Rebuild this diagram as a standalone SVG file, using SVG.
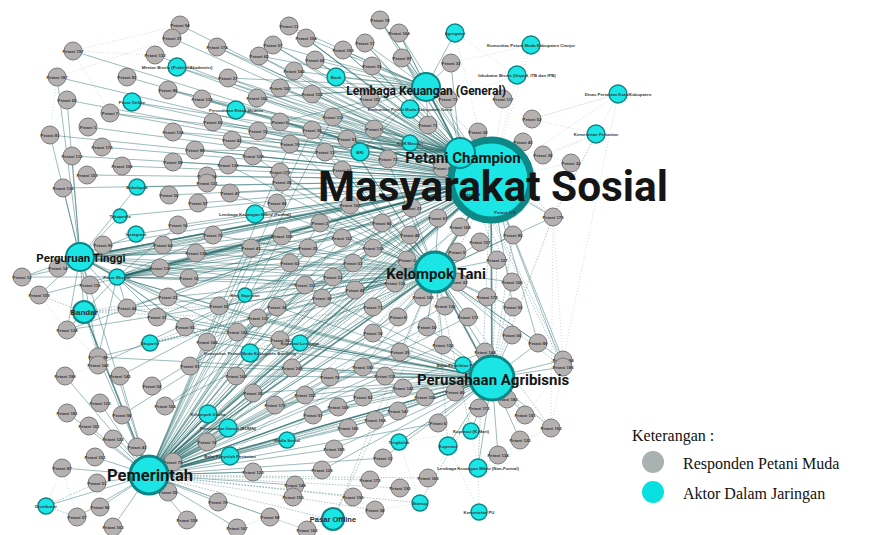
<svg xmlns="http://www.w3.org/2000/svg" xmlns:xlink="http://www.w3.org/1999/xlink" width="887" height="535" viewBox="0 0 887 535">
<style>
.p circle{fill:#b5b1b1;stroke:#7a7878;stroke-width:1}
.a circle{fill:#1be5e5;stroke:#0b8585;stroke-width:1.4}
.s{font-family:"Liberation Sans",Arial,sans-serif;font-weight:bold;font-size:4.3px;fill:#383838;text-anchor:middle}
.s2{font-family:"Liberation Sans",Arial,sans-serif;font-weight:bold;font-size:5px;fill:#2a2a2a;text-anchor:middle}
.L{font-family:Roboto,"Liberation Sans",Arial,sans-serif;font-weight:bold;fill:#151515;text-anchor:middle}
.e path{fill:none;stroke:#1c6463;stroke-width:0.7;stroke-opacity:0.62}
.e path.d{stroke-dasharray:1.6 1.4;stroke-opacity:0.5}
.e path.f{stroke:#5f8f8f;stroke-width:0.5;stroke-dasharray:1 2;stroke-opacity:0.6}
.e path.h{stroke-width:1.7;stroke-opacity:0.7}
.lg{font-family:"Liberation Serif","Times New Roman",serif;font-size:16px;fill:#111}
</style>
<rect width="887" height="535" fill="#ffffff"/>
<g id="connectors" class="e">
<path d="M491 180L180 25M491 180L172 38M491 180L73 51M491 180L155 55M491 180L217 47M491 180L273 45M491 180L259 56M491 180L57 77M491 180L127 77M491 180L228 78M491 180L280 88M491 180L67 100M491 180L168 90M491 180L202 99M491 180L257 98M491 180L110 113M491 180L213 122M491 180L88 127M491 180L280 122M491 180L50 135M491 180L173 132M491 180L258 131M491 180L232 140M491 180L102 147M491 180L195 150M491 180L72 156M491 180L253 156M491 180L173 162M491 180L122 166M491 180L228 165M491 180L87 175M491 180L207 176M491 180L63 188M491 180L169 195M491 180L198 203M491 180L230 193M491 180L178 225M491 180L213 235M491 180L103 245M491 180L163 245M491 180L196 253M491 180L251 248M491 180L58 268M491 180L160 268M491 180L22 277M491 180L90 285M491 180L189 278M491 180L39 295M491 180L168 297M491 180L127 308M491 180L219 306M491 180L157 317M491 180L258 318M491 180L185 327M491 180L237 332M491 180L67 330M491 180L207 342M491 180L98 365M491 180L120 376M491 180L152 386M491 180L190 366M491 180L236 376M491 180L165 406M491 180L253 393M491 180L122 415M491 180L207 442M491 180L173 462M491 180L380 20M491 180L399 33M491 180L306 38M491 180L365 43M491 180L343 50M491 180L315 60M491 180L402 58M491 180L372 66M491 180L312 94M491 180L370 99M491 180L333 117M491 180L312 130M491 180L347 139M491 180L325 152M491 180L553 217M491 180L563 360M491 180L538 343M491 180L513 307M491 180L563 367M491 180L137 187M491 180L120 216M491 180L136 234M491 180L132 102M491 180L177 67M491 180L236 110M491 180L255 214M491 180L117 277M491 180L80 257"/>
<path d="M149 475L253 393M149 475L275 405M149 475L292 368M149 475L236 376M149 475L305 395M149 475L330 377M149 475L363 367M149 475L385 376M149 475L403 388M149 475L425 397M149 475L455 392M149 475L363 397M149 475L338 407M149 475L313 415M149 475L375 420M149 475L398 411M149 475L438 423M149 475L322 298M149 475L373 307M149 475L398 317M149 475L427 327M149 475L373 333M149 475L400 352M149 475L443 345M149 475L355 290M149 475L333 277M149 475L305 285M149 475L258 318M149 475L277 307M149 475L280 340M149 475L237 332M149 475L207 342M149 475L219 306M149 475L308 248M149 475L342 238M149 475L320 223M149 475L282 236M149 475L251 248M149 475L290 263M149 475L350 205M149 475L382 223M149 475L410 235M149 475L353 263M149 475L373 248M149 475L395 283M149 475L423 297M149 475L468 317M149 475L445 306M149 475L485 352M149 475L207 442M149 475L253 472M149 475L295 485M149 475L270 517M149 475L218 502M149 475L187 520M149 475L334 449M149 475L348 428M149 475L322 470M149 475L383 458M149 475L98 357M149 475L100 403M149 475L65 376M149 475L120 376M149 475L67 413M149 475L89 426M149 475L113 439M149 475L62 468M149 475L95 457M149 475L97 483M149 475L100 507M149 475L77 517M149 475L113 527M149 475L168 492M149 475L237 528M149 475L46 506M149 475L208 414M149 475L228 428M149 475L230 456M149 475L287 440M149 475L300 343M149 475L250 353M149 475L245 295M149 475L412 208M149 475L438 218M149 475L460 227M149 475L312 130M149 475L333 117M149 475L290 144"/>
<path d="M435 272L213 235M435 272L196 253M435 272L160 268M435 272L189 278M435 272L168 297M435 272L219 306M435 272L277 307M435 272L258 318M435 272L237 332M435 272L280 340M435 272L308 248M435 272L342 238M435 272L320 223M435 272L350 205M435 272L382 223M435 272L410 235M435 272L412 208M435 272L438 218M435 272L460 227M435 272L480 242M435 272L513 235M435 272L497 260M435 272L512 282M435 272L487 297M435 272L513 307M435 272L512 335M435 272L538 343M435 272L485 352M435 272L443 345M435 272L400 352M435 272L427 327M435 272L398 317M435 272L373 333M435 272L373 307M435 272L322 298M435 272L305 285M435 272L333 277M435 272L353 263M435 272L373 248M435 272L407 260M435 272L457 252M435 272L458 282M435 272L445 306M435 272L468 317M435 272L423 297M435 272L395 283M435 272L355 290M435 272L342 170M435 272L325 152M435 272L347 139M435 272L374 129M435 272L333 117M435 272L312 130M435 272L290 144M435 272L280 172M435 272L282 182M435 272L230 193M435 272L251 248M435 272L290 263M435 272L253 156M435 272L228 165M435 272L165 406M435 272L253 393M435 272L292 368M435 272L363 367M435 272L98 357M435 272L127 308M435 272L67 330M435 272L553 217M435 272L563 360"/>
<path d="M492 378L363 367M492 378L385 376M492 378L330 377M492 378L305 395M492 378L363 397M492 378L403 388M492 378L425 397M492 378L455 392M492 378L338 407M492 378L398 411M492 378L375 420M492 378L438 423M492 378L348 428M492 378L313 415M492 378L334 449M492 378L525 415M492 378L507 399M492 378L479 408M492 378L551 428M492 378L520 440M492 378L498 455M492 378L563 367M492 378L563 360M492 378L538 343M492 378L512 335M492 378L485 352M492 378L443 345M492 378L400 352M492 378L427 327M492 378L373 333M492 378L322 298M492 378L280 340M492 378L258 318M492 378L237 332M492 378L207 342M492 378L292 368M492 378L253 393M492 378L275 405M492 378L219 306M492 378L277 307M492 378L168 297M492 378L185 327M492 378L157 317M492 378L127 308M492 378L98 357M492 378L236 376M492 378L190 366M492 378L471 431M492 378L448 446M492 378L478 468M492 378L399 442M492 378L463 365M492 378L383 458M492 378L322 470"/>
<path d="M80 257L22 277M80 257L39 295M80 257L58 268M80 257L90 285M80 257L103 245M80 257L63 188M80 257L67 330M80 257L98 357M80 257L127 308M80 257L160 268M80 257L168 297M80 257L163 245M80 257L189 278M80 257L196 253M80 257L213 235M80 257L251 248M80 257L308 248M80 257L342 238M80 257L350 205M80 257L382 223M80 257L305 285M80 257L333 277M80 257L120 216M80 257L136 234M80 257L137 187M80 257L57 77M80 257L67 100M80 257L50 135M80 257L72 156M80 257L84 312M80 257L435 272M80 257L149 475"/>
<path d="M117 277L178 225M117 277L213 235M117 277L251 248M117 277L282 236M117 277L308 248M117 277L342 238M117 277L373 248M117 277L189 278M117 277L219 306M117 277L258 318M117 277L290 263M117 277L305 285M117 277L168 297M117 277L157 317M117 277L185 327M117 277L237 332M117 277L207 342M117 277L127 308M117 277L160 268M117 277L353 263M117 277L395 283M117 277L412 208M117 277L382 223M117 277L98 357M117 277L67 330M117 277L22 277"/>
<path d="M460 153L428 125M460 153L448 99M460 153L478 132M460 153L442 168M460 153L388 159M460 153L374 129M460 153L347 139M460 153L333 117M460 153L370 99M460 153L402 58M460 153L372 66M460 153L451 63M460 153L365 43M460 153L343 50M460 153L399 33M460 153L380 20M460 153L306 38M460 153L315 60M460 153L312 94M460 153L312 130M460 153L325 152M460 153L342 170M460 153L280 122M460 153L290 144M460 153L258 131M460 153L257 98M460 153L280 88M460 153L294 71M460 153L289 26M460 153L273 45M460 153L259 56M460 153L232 140M460 153L213 122M460 153L228 78M460 153L217 47M460 153L202 99M460 153L168 90M460 153L173 132M460 153L195 150M460 153L110 113M460 153L132 102M460 153L177 67M460 153L236 110"/>
<path d="M426 87L380 20M426 87L399 33M426 87L365 43M426 87L343 50M426 87L402 58M426 87L372 66M426 87L315 60M426 87L306 38M426 87L289 26M426 87L273 45M426 87L259 56M426 87L294 71M426 87L280 88M426 87L312 94M426 87L370 99M426 87L448 99M426 87L333 117M426 87L374 129M426 87L428 125M426 87L410 109M426 87L336 77M426 87L360 152M426 87L455 33M426 87L451 63M426 87L228 78M426 87L257 98M426 87L280 122"/>
<path class="h" d="M149 475L491 180M149 475L435 272M149 475L492 378M80 257L491 180M435 272L491 180M492 378L491 180M492 378L435 272M460 153L426 87M117 277L491 180M80 257L117 277M149 475L84 312"/>
<path class="d" d="M460 153L563 360M460 153L553 217M460 153L513 235M460 153L497 260M460 153L512 282M426 87L563 367M426 87L553 217M435 272L563 367M435 272L551 428M435 272L525 415M492 378L513 307M492 378L512 282M492 378L497 260M492 378L513 235M492 378L553 217M149 475L307 530M149 475L353 497M149 475L375 510M149 475L333 520M149 475L420 503M149 475L370 480M149 475L400 488M149 475L428 478M84 312L127 308M84 312L39 295M84 312L67 330M84 312L98 357M84 312L168 297M84 312L219 306M84 312L258 318M150 343L258 318M150 343L373 307M150 343L305 285M150 343L435 272M245 295L491 180M245 295L435 272M250 353L435 272M250 353L491 180M300 343L435 272M300 343L491 180M208 414L435 272M228 428L491 180M230 456L435 272M287 440L491 180M287 440L492 378M399 442L492 378M448 446L435 272M471 431L435 272M333 520L435 272M333 520L491 180M420 503L492 378M478 468L491 180M46 506L97 483M46 506L77 517"/>
<path class="f" d="M491 180L618 94M491 180L596 134M491 180L531 45M491 180L517 75M491 180L455 33M491 180L503 99M491 180L532 119M491 180L523 142M491 180L543 155M491 180L571 163M553 217L596 134M553 217L618 94M563 360L563 367M563 360L553 217M553 217L551 428M563 367L551 428M525 415L551 428M520 440L551 428M498 455L478 468M479 512L478 468M479 512L448 446M420 503L448 446M420 503L399 442M399 442L471 431M478 468L471 431M448 446L471 431M517 75L455 33M531 45L503 99M618 94L532 119M596 134L532 119M596 134L543 155M532 119L618 94M517 75L448 99M531 45L451 63M180 25L73 51M172 38L57 77M155 55L73 51M57 77L50 135M67 100L50 135M73 51L110 113M22 277L39 295M22 277L58 268M39 295L67 330M67 330L98 357M65 376L98 365M62 468L77 517M62 468L46 506M100 507L113 527M270 517L307 530M237 528L270 517M353 497L375 510M375 510L420 503M333 520L375 510M333 520L307 530M563 367L525 415M551 428L498 455M618 94L563 360M596 134L553 217M571 163L553 217M543 155L571 163"/>
</g>
<g id="nodes-petani">
<g id="p1" class="p" transform="translate(180 25)"><circle r="9"/><text class="s" y="1.5">Petani 94</text></g>
<g id="p2" class="p" transform="translate(172 38)"><circle r="9"/><text class="s" y="1.5">Petani 31</text></g>
<g id="p3" class="p" transform="translate(73 51)"><circle r="9"/><text class="s" y="1.5">Petani 197</text></g>
<g id="p4" class="p" transform="translate(155 55)"><circle r="9"/><text class="s" y="1.5">Petani 132</text></g>
<g id="p5" class="p" transform="translate(217 47)"><circle r="9"/><text class="s" y="1.5">Petani 174</text></g>
<g id="p6" class="p" transform="translate(273 45)"><circle r="9"/><text class="s" y="1.5">Petani 57</text></g>
<g id="p7" class="p" transform="translate(259 56)"><circle r="9"/><text class="s" y="1.5">Petani 65</text></g>
<g id="p8" class="p" transform="translate(289 26)"><circle r="9"/><text class="s" y="1.5">Petani 11</text></g>
<g id="p9" class="p" transform="translate(294 71)"><circle r="9"/><text class="s" y="1.5">Petani 140</text></g>
<g id="p10" class="p" transform="translate(57 77)"><circle r="9"/><text class="s" y="1.5">Petani 187</text></g>
<g id="p11" class="p" transform="translate(127 77)"><circle r="9"/><text class="s" y="1.5">Petani 83</text></g>
<g id="p12" class="p" transform="translate(228 78)"><circle r="9"/><text class="s" y="1.5">Petani 27</text></g>
<g id="p13" class="p" transform="translate(280 88)"><circle r="9"/><text class="s" y="1.5">Petani 102</text></g>
<g id="p14" class="p" transform="translate(67 100)"><circle r="9"/><text class="s" y="1.5">Petani 69</text></g>
<g id="p15" class="p" transform="translate(168 90)"><circle r="9"/><text class="s" y="1.5">Petani 86</text></g>
<g id="p16" class="p" transform="translate(202 99)"><circle r="9"/><text class="s" y="1.5">Petani 133</text></g>
<g id="p17" class="p" transform="translate(257 98)"><circle r="9"/><text class="s" y="1.5">Petani 166</text></g>
<g id="p18" class="p" transform="translate(110 113)"><circle r="9"/><text class="s" y="1.5">Petani 7</text></g>
<g id="p19" class="p" transform="translate(213 122)"><circle r="9"/><text class="s" y="1.5">Petani 60</text></g>
<g id="p20" class="p" transform="translate(88 127)"><circle r="9"/><text class="s" y="1.5">Petani 1</text></g>
<g id="p21" class="p" transform="translate(280 122)"><circle r="9"/><text class="s" y="1.5">Petani 6</text></g>
<g id="p22" class="p" transform="translate(50 135)"><circle r="9"/><text class="s" y="1.5">Petani 81</text></g>
<g id="p23" class="p" transform="translate(173 132)"><circle r="9"/><text class="s" y="1.5">Petani 114</text></g>
<g id="p24" class="p" transform="translate(258 131)"><circle r="9"/><text class="s" y="1.5">Petani 15</text></g>
<g id="p25" class="p" transform="translate(232 140)"><circle r="9"/><text class="s" y="1.5">Petani 42</text></g>
<g id="p26" class="p" transform="translate(102 147)"><circle r="9"/><text class="s" y="1.5">Petani 176</text></g>
<g id="p27" class="p" transform="translate(195 150)"><circle r="9"/><text class="s" y="1.5">Petani 88</text></g>
<g id="p28" class="p" transform="translate(290 144)"><circle r="9"/><text class="s" y="1.5">Petani 19</text></g>
<g id="p29" class="p" transform="translate(72 156)"><circle r="9"/><text class="s" y="1.5">Petani 113</text></g>
<g id="p30" class="p" transform="translate(253 156)"><circle r="9"/><text class="s" y="1.5">Petani 128</text></g>
<g id="p31" class="p" transform="translate(173 162)"><circle r="9"/><text class="s" y="1.5">Petani 58</text></g>
<g id="p32" class="p" transform="translate(122 166)"><circle r="9"/><text class="s" y="1.5">Petani 196</text></g>
<g id="p33" class="p" transform="translate(228 165)"><circle r="9"/><text class="s" y="1.5">Petani 135</text></g>
<g id="p34" class="p" transform="translate(280 172)"><circle r="9"/><text class="s" y="1.5">Petani 170</text></g>
<g id="p35" class="p" transform="translate(87 175)"><circle r="9"/><text class="s" y="1.5">Petani 153</text></g>
<g id="p36" class="p" transform="translate(207 176)"><circle r="9"/><text class="s" y="1.5">Petani 24</text></g>
<g id="p37" class="p" transform="translate(380 20)"><circle r="9"/><text class="s" y="1.5">Petani 78</text></g>
<g id="p38" class="p" transform="translate(399 33)"><circle r="9"/><text class="s" y="1.5">Petani 164</text></g>
<g id="p39" class="p" transform="translate(306 38)"><circle r="9"/><text class="s" y="1.5">Petani 154</text></g>
<g id="p40" class="p" transform="translate(365 43)"><circle r="9"/><text class="s" y="1.5">Petani 17</text></g>
<g id="p41" class="p" transform="translate(343 50)"><circle r="9"/><text class="s" y="1.5">Petani 199</text></g>
<g id="p42" class="p" transform="translate(315 60)"><circle r="9"/><text class="s" y="1.5">Petani 68</text></g>
<g id="p43" class="p" transform="translate(402 58)"><circle r="9"/><text class="s" y="1.5">Petani 87</text></g>
<g id="p44" class="p" transform="translate(372 66)"><circle r="9"/><text class="s" y="1.5">Petani 39</text></g>
<g id="p45" class="p" transform="translate(451 63)"><circle r="9"/><text class="s" y="1.5">Petani 33</text></g>
<g id="p46" class="p" transform="translate(312 94)"><circle r="9"/><text class="s" y="1.5">Petani 156</text></g>
<g id="p47" class="p" transform="translate(370 99)"><circle r="9"/><text class="s" y="1.5">Petani 152</text></g>
<g id="p48" class="p" transform="translate(448 99)"><circle r="9"/><text class="s" y="1.5">Petani 73</text></g>
<g id="p49" class="p" transform="translate(503 99)"><circle r="9"/><text class="s" y="1.5">Petani 117</text></g>
<g id="p50" class="p" transform="translate(333 117)"><circle r="9"/><text class="s" y="1.5">Petani 112</text></g>
<g id="p51" class="p" transform="translate(428 125)"><circle r="9"/><text class="s" y="1.5">Petani 71</text></g>
<g id="p52" class="p" transform="translate(374 129)"><circle r="9"/><text class="s" y="1.5">Petani 5</text></g>
<g id="p53" class="p" transform="translate(312 130)"><circle r="9"/><text class="s" y="1.5">Petani 36</text></g>
<g id="p54" class="p" transform="translate(532 119)"><circle r="9"/><text class="s" y="1.5">Petani 52</text></g>
<g id="p55" class="p" transform="translate(478 132)"><circle r="9"/><text class="s" y="1.5">Petani 20</text></g>
<g id="p56" class="p" transform="translate(347 139)"><circle r="9"/><text class="s" y="1.5">Petani 93</text></g>
<g id="p57" class="p" transform="translate(523 142)"><circle r="9"/><text class="s" y="1.5">Petani 45</text></g>
<g id="p58" class="p" transform="translate(325 152)"><circle r="9"/><text class="s" y="1.5">Petani 13</text></g>
<g id="p59" class="p" transform="translate(388 159)"><circle r="9"/><text class="s" y="1.5">Petani 72</text></g>
<g id="p60" class="p" transform="translate(543 155)"><circle r="9"/><text class="s" y="1.5">Petani 38</text></g>
<g id="p61" class="p" transform="translate(571 163)"><circle r="9"/><text class="s" y="1.5">Petani 32</text></g>
<g id="p62" class="p" transform="translate(442 168)"><circle r="9"/><text class="s" y="1.5">Petani 4</text></g>
<g id="p63" class="p" transform="translate(342 170)"><circle r="9"/><text class="s" y="1.5">Petani 63</text></g>
<g id="p64" class="p" transform="translate(63 188)"><circle r="9"/><text class="s" y="1.5">Petani 136</text></g>
<g id="p65" class="p" transform="translate(169 195)"><circle r="9"/><text class="s" y="1.5">Petani 56</text></g>
<g id="p66" class="p" transform="translate(198 203)"><circle r="9"/><text class="s" y="1.5">Petani 97</text></g>
<g id="p67" class="p" transform="translate(230 193)"><circle r="9"/><text class="s" y="1.5">Petani 47</text></g>
<g id="p68" class="p" transform="translate(277 203)"><circle r="9"/><text class="s" y="1.5">Petani 84</text></g>
<g id="p69" class="p" transform="translate(207 183)"><circle r="9"/><text class="s" y="1.5">Petani 121</text></g>
<g id="p70" class="p" transform="translate(282 182)"><circle r="9"/><text class="s" y="1.5">Petani 28</text></g>
<g id="p71" class="p" transform="translate(178 225)"><circle r="9"/><text class="s" y="1.5">Petani 16</text></g>
<g id="p72" class="p" transform="translate(213 235)"><circle r="9"/><text class="s" y="1.5">Petani 75</text></g>
<g id="p73" class="p" transform="translate(103 245)"><circle r="9"/><text class="s" y="1.5">Petani 99</text></g>
<g id="p74" class="p" transform="translate(163 245)"><circle r="9"/><text class="s" y="1.5">Petani 64</text></g>
<g id="p75" class="p" transform="translate(196 253)"><circle r="9"/><text class="s" y="1.5">Petani 110</text></g>
<g id="p76" class="p" transform="translate(251 248)"><circle r="9"/><text class="s" y="1.5">Petani 41</text></g>
<g id="p77" class="p" transform="translate(282 236)"><circle r="9"/><text class="s" y="1.5">Petani 105</text></g>
<g id="p78" class="p" transform="translate(58 268)"><circle r="9"/><text class="s" y="1.5">Petani 14</text></g>
<g id="p79" class="p" transform="translate(160 268)"><circle r="9"/><text class="s" y="1.5">Petani 116</text></g>
<g id="p80" class="p" transform="translate(290 263)"><circle r="9"/><text class="s" y="1.5">Petani 62</text></g>
<g id="p81" class="p" transform="translate(22 277)"><circle r="9"/><text class="s" y="1.5">Petani 12</text></g>
<g id="p82" class="p" transform="translate(90 285)"><circle r="9"/><text class="s" y="1.5">Petani 119</text></g>
<g id="p83" class="p" transform="translate(189 278)"><circle r="9"/><text class="s" y="1.5">Petani 10</text></g>
<g id="p84" class="p" transform="translate(39 295)"><circle r="9"/><text class="s" y="1.5">Petani 159</text></g>
<g id="p85" class="p" transform="translate(168 297)"><circle r="9"/><text class="s" y="1.5">Petani 23</text></g>
<g id="p86" class="p" transform="translate(127 308)"><circle r="9"/><text class="s" y="1.5">Petani 44</text></g>
<g id="p87" class="p" transform="translate(219 306)"><circle r="9"/><text class="s" y="1.5">Petani 59</text></g>
<g id="p88" class="p" transform="translate(277 307)"><circle r="9"/><text class="s" y="1.5">Petani 34</text></g>
<g id="p89" class="p" transform="translate(157 317)"><circle r="9"/><text class="s" y="1.5">Petani 37</text></g>
<g id="p90" class="p" transform="translate(258 318)"><circle r="9"/><text class="s" y="1.5">Petani 137</text></g>
<g id="p91" class="p" transform="translate(185 327)"><circle r="9"/><text class="s" y="1.5">Petani 95</text></g>
<g id="p92" class="p" transform="translate(237 332)"><circle r="9"/><text class="s" y="1.5">Petani 124</text></g>
<g id="p93" class="p" transform="translate(67 330)"><circle r="9"/><text class="s" y="1.5">Petani 138</text></g>
<g id="p94" class="p" transform="translate(207 342)"><circle r="9"/><text class="s" y="1.5">Petani 146</text></g>
<g id="p95" class="p" transform="translate(280 340)"><circle r="9"/><text class="s" y="1.5">Petani 26</text></g>
<g id="p96" class="p" transform="translate(98 357)"><circle r="9"/><text class="s" y="1.5">Petani 48</text></g>
<g id="p97" class="p" transform="translate(350 205)"><circle r="9"/><text class="s" y="1.5">Petani 107</text></g>
<g id="p98" class="p" transform="translate(412 208)"><circle r="9"/><text class="s" y="1.5">Petani 21</text></g>
<g id="p99" class="p" transform="translate(438 218)"><circle r="9"/><text class="s" y="1.5">Petani 67</text></g>
<g id="p100" class="p" transform="translate(460 227)"><circle r="9"/><text class="s" y="1.5">Petani 108</text></g>
<g id="p101" class="p" transform="translate(382 223)"><circle r="9"/><text class="s" y="1.5">Petani 80</text></g>
<g id="p102" class="p" transform="translate(320 223)"><circle r="9"/><text class="s" y="1.5">Petani 2</text></g>
<g id="p103" class="p" transform="translate(553 217)"><circle r="9"/><text class="s" y="1.5">Petani 179</text></g>
<g id="p104" class="p" transform="translate(342 238)"><circle r="9"/><text class="s" y="1.5">Petani 101</text></g>
<g id="p105" class="p" transform="translate(410 235)"><circle r="9"/><text class="s" y="1.5">Petani 46</text></g>
<g id="p106" class="p" transform="translate(480 242)"><circle r="9"/><text class="s" y="1.5">Petani 157</text></g>
<g id="p107" class="p" transform="translate(513 235)"><circle r="9"/><text class="s" y="1.5">Petani 85</text></g>
<g id="p108" class="p" transform="translate(308 248)"><circle r="9"/><text class="s" y="1.5">Petani 25</text></g>
<g id="p109" class="p" transform="translate(373 248)"><circle r="9"/><text class="s" y="1.5">Petani 139</text></g>
<g id="p110" class="p" transform="translate(457 252)"><circle r="9"/><text class="s" y="1.5">Petani 9</text></g>
<g id="p111" class="p" transform="translate(497 260)"><circle r="9"/><text class="s" y="1.5">Petani 127</text></g>
<g id="p112" class="p" transform="translate(353 263)"><circle r="9"/><text class="s" y="1.5">Petani 61</text></g>
<g id="p113" class="p" transform="translate(407 260)"><circle r="9"/><text class="s" y="1.5">Petani 3</text></g>
<g id="p114" class="p" transform="translate(333 277)"><circle r="9"/><text class="s" y="1.5">Petani 53</text></g>
<g id="p115" class="p" transform="translate(305 285)"><circle r="9"/><text class="s" y="1.5">Petani 111</text></g>
<g id="p116" class="p" transform="translate(395 283)"><circle r="9"/><text class="s" y="1.5">Petani 118</text></g>
<g id="p117" class="p" transform="translate(458 282)"><circle r="9"/><text class="s" y="1.5">Petani 22</text></g>
<g id="p118" class="p" transform="translate(512 282)"><circle r="9"/><text class="s" y="1.5">Petani 106</text></g>
<g id="p119" class="p" transform="translate(355 290)"><circle r="9"/><text class="s" y="1.5">Petani 49</text></g>
<g id="p120" class="p" transform="translate(423 297)"><circle r="9"/><text class="s" y="1.5">Petani 143</text></g>
<g id="p121" class="p" transform="translate(487 297)"><circle r="9"/><text class="s" y="1.5">Petani 178</text></g>
<g id="p122" class="p" transform="translate(322 298)"><circle r="9"/><text class="s" y="1.5">Petani 30</text></g>
<g id="p123" class="p" transform="translate(373 307)"><circle r="9"/><text class="s" y="1.5">Petani 77</text></g>
<g id="p124" class="p" transform="translate(445 306)"><circle r="9"/><text class="s" y="1.5">Petani 126</text></g>
<g id="p125" class="p" transform="translate(513 307)"><circle r="9"/><text class="s" y="1.5">Petani 92</text></g>
<g id="p126" class="p" transform="translate(398 317)"><circle r="9"/><text class="s" y="1.5">Petani 8</text></g>
<g id="p127" class="p" transform="translate(468 317)"><circle r="9"/><text class="s" y="1.5">Petani 171</text></g>
<g id="p128" class="p" transform="translate(427 327)"><circle r="9"/><text class="s" y="1.5">Petani 50</text></g>
<g id="p129" class="p" transform="translate(373 333)"><circle r="9"/><text class="s" y="1.5">Petani 18</text></g>
<g id="p130" class="p" transform="translate(512 335)"><circle r="9"/><text class="s" y="1.5">Petani 66</text></g>
<g id="p131" class="p" transform="translate(538 343)"><circle r="9"/><text class="s" y="1.5">Petani 89</text></g>
<g id="p132" class="p" transform="translate(443 345)"><circle r="9"/><text class="s" y="1.5">Petani 130</text></g>
<g id="p133" class="p" transform="translate(400 352)"><circle r="9"/><text class="s" y="1.5">Petani 29</text></g>
<g id="p134" class="p" transform="translate(485 352)"><circle r="9"/><text class="s" y="1.5">Petani 144</text></g>
<g id="p135" class="p" transform="translate(563 360)"><circle r="9"/><text class="s" y="1.5">Petani 184</text></g>
<g id="p136" class="p" transform="translate(98 365)"><circle r="9"/><text class="s" y="1.5">Petani 142</text></g>
<g id="p137" class="p" transform="translate(65 376)"><circle r="9"/><text class="s" y="1.5">Petani 198</text></g>
<g id="p138" class="p" transform="translate(120 376)"><circle r="9"/><text class="s" y="1.5">Petani 145</text></g>
<g id="p139" class="p" transform="translate(152 386)"><circle r="9"/><text class="s" y="1.5">Petani 54</text></g>
<g id="p140" class="p" transform="translate(190 366)"><circle r="9"/><text class="s" y="1.5">Petani 91</text></g>
<g id="p141" class="p" transform="translate(236 376)"><circle r="9"/><text class="s" y="1.5">Petani 160</text></g>
<g id="p142" class="p" transform="translate(292 368)"><circle r="9"/><text class="s" y="1.5">Petani 149</text></g>
<g id="p143" class="p" transform="translate(100 403)"><circle r="9"/><text class="s" y="1.5">Petani 123</text></g>
<g id="p144" class="p" transform="translate(67 413)"><circle r="9"/><text class="s" y="1.5">Petani 181</text></g>
<g id="p145" class="p" transform="translate(122 415)"><circle r="9"/><text class="s" y="1.5">Petani 96</text></g>
<g id="p146" class="p" transform="translate(165 406)"><circle r="9"/><text class="s" y="1.5">Petani 104</text></g>
<g id="p147" class="p" transform="translate(253 393)"><circle r="9"/><text class="s" y="1.5">Petani 35</text></g>
<g id="p148" class="p" transform="translate(275 405)"><circle r="9"/><text class="s" y="1.5">Petani 173</text></g>
<g id="p149" class="p" transform="translate(89 426)"><circle r="9"/><text class="s" y="1.5">Petani 161</text></g>
<g id="p150" class="p" transform="translate(113 439)"><circle r="9"/><text class="s" y="1.5">Petani 122</text></g>
<g id="p151" class="p" transform="translate(137 447)"><circle r="9"/><text class="s" y="1.5">Petani 43</text></g>
<g id="p152" class="p" transform="translate(207 442)"><circle r="9"/><text class="s" y="1.5">Petani 74</text></g>
<g id="p153" class="p" transform="translate(95 457)"><circle r="9"/><text class="s" y="1.5">Petani 151</text></g>
<g id="p154" class="p" transform="translate(62 468)"><circle r="9"/><text class="s" y="1.5">Petani 87</text></g>
<g id="p155" class="p" transform="translate(173 462)"><circle r="9"/><text class="s" y="1.5">Petani 79</text></g>
<g id="p156" class="p" transform="translate(253 472)"><circle r="9"/><text class="s" y="1.5">Petani 120</text></g>
<g id="p157" class="p" transform="translate(295 485)"><circle r="9"/><text class="s" y="1.5">Petani 148</text></g>
<g id="p158" class="p" transform="translate(97 483)"><circle r="9"/><text class="s" y="1.5">Petani 51</text></g>
<g id="p159" class="p" transform="translate(168 492)"><circle r="9"/><text class="s" y="1.5">Petani 55</text></g>
<g id="p160" class="p" transform="translate(218 502)"><circle r="9"/><text class="s" y="1.5">Petani 70</text></g>
<g id="p161" class="p" transform="translate(100 507)"><circle r="9"/><text class="s" y="1.5">Petani 90</text></g>
<g id="p162" class="p" transform="translate(77 517)"><circle r="9"/><text class="s" y="1.5">Petani 57</text></g>
<g id="p163" class="p" transform="translate(113 527)"><circle r="9"/><text class="s" y="1.5">Petani 163</text></g>
<g id="p164" class="p" transform="translate(187 520)"><circle r="9"/><text class="s" y="1.5">Petani 158</text></g>
<g id="p165" class="p" transform="translate(237 528)"><circle r="9"/><text class="s" y="1.5">Petani 167</text></g>
<g id="p166" class="p" transform="translate(270 517)"><circle r="9"/><text class="s" y="1.5">Petani 98</text></g>
<g id="p167" class="p" transform="translate(293 497)"><circle r="9"/><text class="s" y="1.5">Petani 150</text></g>
<g id="p168" class="p" transform="translate(363 367)"><circle r="9"/><text class="s" y="1.5">Petani 182</text></g>
<g id="p169" class="p" transform="translate(385 376)"><circle r="9"/><text class="s" y="1.5">Petani 115</text></g>
<g id="p170" class="p" transform="translate(330 377)"><circle r="9"/><text class="s" y="1.5">Petani 76</text></g>
<g id="p171" class="p" transform="translate(305 395)"><circle r="9"/><text class="s" y="1.5">Petani 155</text></g>
<g id="p172" class="p" transform="translate(363 397)"><circle r="9"/><text class="s" y="1.5">Petani 82</text></g>
<g id="p173" class="p" transform="translate(403 388)"><circle r="9"/><text class="s" y="1.5">Petani 141</text></g>
<g id="p174" class="p" transform="translate(425 397)"><circle r="9"/><text class="s" y="1.5">Petani 100</text></g>
<g id="p175" class="p" transform="translate(455 392)"><circle r="9"/><text class="s" y="1.5">Petani 40</text></g>
<g id="p176" class="p" transform="translate(507 399)"><circle r="9"/><text class="s" y="1.5">Petani 183</text></g>
<g id="p177" class="p" transform="translate(563 367)"><circle r="9"/><text class="s" y="1.5">Petani 186</text></g>
<g id="p178" class="p" transform="translate(479 408)"><circle r="9"/><text class="s" y="1.5">Petani 172</text></g>
<g id="p179" class="p" transform="translate(338 407)"><circle r="9"/><text class="s" y="1.5">Petani 109</text></g>
<g id="p180" class="p" transform="translate(398 411)"><circle r="9"/><text class="s" y="1.5">Petani 147</text></g>
<g id="p181" class="p" transform="translate(313 415)"><circle r="9"/><text class="s" y="1.5">Petani 97</text></g>
<g id="p182" class="p" transform="translate(375 420)"><circle r="9"/><text class="s" y="1.5">Petani 194</text></g>
<g id="p183" class="p" transform="translate(348 428)"><circle r="9"/><text class="s" y="1.5">Petani 180</text></g>
<g id="p184" class="p" transform="translate(438 423)"><circle r="9"/><text class="s" y="1.5">Petani 6</text></g>
<g id="p185" class="p" transform="translate(525 415)"><circle r="9"/><text class="s" y="1.5">Petani 191</text></g>
<g id="p186" class="p" transform="translate(551 428)"><circle r="9"/><text class="s" y="1.5">Petani 193</text></g>
<g id="p187" class="p" transform="translate(520 440)"><circle r="9"/><text class="s" y="1.5">Petani 125</text></g>
<g id="p188" class="p" transform="translate(498 455)"><circle r="9"/><text class="s" y="1.5">Petani 134</text></g>
<g id="p189" class="p" transform="translate(334 449)"><circle r="9"/><text class="s" y="1.5">Petani 185</text></g>
<g id="p190" class="p" transform="translate(383 458)"><circle r="9"/><text class="s" y="1.5">Petani 12</text></g>
<g id="p191" class="p" transform="translate(322 470)"><circle r="9"/><text class="s" y="1.5">Petani 129</text></g>
<g id="p192" class="p" transform="translate(370 480)"><circle r="9"/><text class="s" y="1.5">Petani 175</text></g>
<g id="p193" class="p" transform="translate(400 488)"><circle r="9"/><text class="s" y="1.5">Petani 195</text></g>
<g id="p194" class="p" transform="translate(428 478)"><circle r="9"/><text class="s" y="1.5">Petani 169</text></g>
<g id="p195" class="p" transform="translate(353 497)"><circle r="9"/><text class="s" y="1.5">Petani 190</text></g>
<g id="p196" class="p" transform="translate(375 510)"><circle r="9"/><text class="s" y="1.5">Petani 38</text></g>
<g id="p197" class="p" transform="translate(307 530)"><circle r="9"/><text class="s" y="1.5">Petani 162</text></g>
</g>
<g id="nodes-aktor">
<g id="a-bandar" class="a" transform="translate(84 312)"><circle r="11" style="stroke-width:2"/><text class="s2" y="3" style="font-size:8px">Bandar</text></g>
<g id="a-pasar-ekspor" class="a" transform="translate(117 277)"><circle r="8"/><text class="s" y="1.5">Pasar Ekspor</text></g>
<g id="a-pasar-online" class="a" transform="translate(132 102)"><circle r="9"/><text class="s" y="1.5">Pasar Online</text></g>
<g id="a-mentor" class="a" transform="translate(177 67)"><circle r="9"/><text class="s" y="1.5">Mentor Bisnis (Praktisi/Akademisi)</text></g>
<g id="a-retail" class="a" transform="translate(236 110)"><circle r="9"/><text class="s" y="1.5">Perusahaan Retail Modern</text></g>
<g id="a-bukalapak" class="a" transform="translate(137 187)"><circle r="8"/><text class="s" y="1.5">Bukalapak</text></g>
<g id="a-tokopedia" class="a" transform="translate(120 216)"><circle r="7"/><text class="s" y="1.5">Tokopedia</text></g>
<g id="a-instagram" class="a" transform="translate(136 234)"><circle r="8"/><text class="s" y="1.5">Instagram</text></g>
<g id="a-lkm-formal" class="a" transform="translate(255 214)"><circle r="9"/><text class="s" y="1.5">Lembaga Keuangan Mikro (Formal)</text></g>
<g id="a-kios" class="a" transform="translate(245 295)"><circle r="7"/><text class="s" y="1.5">Kios Saprotan</text></g>
<g id="a-eksportir" class="a" transform="translate(150 343)"><circle r="8"/><text class="s" y="1.5">Eksportir</text></g>
<g id="a-komunitas-bandung" class="a" transform="translate(250 353)"><circle r="9"/><text class="s" y="1.5">Komunitas Petani Muda Kabupaten Bandung</text></g>
<g id="a-koperasi-lembaga" class="a" transform="translate(300 343)"><circle r="8"/><text class="s" y="1.5">Koperasi Lembaga</text></g>
<g id="a-kelompok-usaha" class="a" transform="translate(208 414)"><circle r="9"/><text class="s" y="1.5">Kelompok Usaha</text></g>
<g id="a-bumn" class="a" transform="translate(228 428)"><circle r="9"/><text class="s" y="1.5">Perusahaan Umum (BUMN)</text></g>
<g id="a-bpp" class="a" transform="translate(230 456)"><circle r="9"/><text class="s" y="1.5">Balai Penyuluh Pertanian</text></g>
<g id="a-media" class="a" transform="translate(287 440)"><circle r="8"/><text class="s" y="1.5">Media Sosial</text></g>
<g id="a-distributor" class="a" transform="translate(46 506)"><circle r="8"/><text class="s" y="1.5">Distributor</text></g>
<g id="a-balai" class="a" transform="translate(463 365)"><circle r="8"/><text class="s" y="1.5">Balai Penelitian Pertanian</text></g>
<g id="a-tengkulak" class="a" transform="translate(399 442)"><circle r="8"/><text class="s" y="1.5">Tengkulak</text></g>
<g id="a-koperasi" class="a" transform="translate(448 446)"><circle r="9"/><text class="s" y="1.5">Koperasi</text></g>
<g id="a-koperasi-kmart" class="a" transform="translate(471 431)"><circle r="8"/><text class="s" y="1.5">Koperasi (K-Mart)</text></g>
<g id="a-lkm-nonformal" class="a" transform="translate(478 468)"><circle r="9"/><text class="s" y="1.5">Lembaga Keuangan Mikro (Non-Formal)</text></g>
<g id="a-startup" class="a" transform="translate(420 503)"><circle r="8"/><text class="s" y="1.5">Startup</text></g>
<g id="a-kementrian-pu" class="a" transform="translate(479 512)"><circle r="8"/><text class="s" y="1.5">Kementrian PU</text></g>
<g id="a-pasar-offline" class="a" transform="translate(333 519)"><circle r="11" style="stroke-width:2"/><text class="s2" y="3" style="font-size:7.5px">Pasar Offline</text></g>
<g id="a-bank" class="a" transform="translate(336 77)"><circle r="9"/><text class="s" y="1.5">Bank</text></g>
<g id="a-bri" class="a" transform="translate(360 152)"><circle r="9"/><text class="s" y="1.5">BRI</text></g>
<g id="a-kur" class="a" transform="translate(410 143)"><circle r="8"/><text class="s" y="1.5">KUR Mandiri</text></g>
<g id="a-komunitas-garut" class="a" transform="translate(410 109)"><circle r="9"/><text class="s" y="1.5">Komunitas Petani Muda Kabupaten Garut</text></g>
<g id="a-agregator" class="a" transform="translate(455 33)"><circle r="9"/><text class="s" y="1.5">Agregator</text></g>
<g id="a-komunitas-cianjur" class="a" transform="translate(531 45)"><circle r="9"/><text class="s" y="1.5">Komunitas Petani Muda Kabupaten Cianjur</text></g>
<g id="a-inkubator" class="a" transform="translate(517 75)"><circle r="9"/><text class="s" y="1.5">Inkubator Bisnis (Unpad, ITB dan IPB)</text></g>
<g id="a-dinas" class="a" transform="translate(618 94)"><circle r="9"/><text class="s" y="1.5">Dinas Pertanian Kota/Kabupaten</text></g>
<g id="a-kementan" class="a" transform="translate(596 134)"><circle r="9"/><text class="s" y="1.5">Kementrian Pertanian</text></g>
<g id="a-lembaga-keuangan" class="a" transform="translate(426 87)"><circle r="14" style="stroke-width:2"/></g>
<g id="a-perguruan" class="a" transform="translate(80 257)"><circle r="14" style="stroke-width:2"/></g>
<g id="a-pemerintah" class="a" transform="translate(149 475)"><circle r="19" style="stroke-width:3"/></g>
<g id="a-kelompok-tani" class="a" transform="translate(435 272)"><circle r="20" style="stroke-width:3"/></g>
<g id="a-perusahaan" class="a" transform="translate(492 378)"><circle r="22" style="stroke-width:3"/></g>
<g id="a-masyarakat" class="a" transform="translate(491 180)"><circle r="40" style="stroke-width:7;stroke:#0e8787"/><text class="s" x="-20" y="16">Petani 89</text><text class="s" x="14" y="34">Petani 175</text></g>
<g id="a-champion" class="a" transform="translate(460 153)"><circle r="15" style="stroke-width:2"/></g>
</g>
<g id="labels">
<text class="L" x="426" y="95" font-size="12">Lembaga Keuangan (General)</text>
<text class="L" x="81" y="262" font-size="11.5">Perguruan Tinggi</text>
<text class="L" x="150" y="481" font-size="16.5">Pemerintah</text>
<text class="L" x="436" y="279" font-size="15">Kelompok Tani</text>
<text class="L" x="493" y="385" font-size="15">Perusahaan Agribisnis</text>
<text class="L" x="463" y="163" font-size="15">Petani Champion</text>
<text class="L" x="493" y="201" font-size="42" textLength="350" lengthAdjust="spacingAndGlyphs">Masyarakat Sosial</text>
</g>
<g id="legend">
<text class="lg" x="632" y="441">Keterangan :</text>
<circle cx="653" cy="462" r="11" fill="#a9b1b1"/>
<text class="lg" x="683" y="469">Responden Petani Muda</text>
<circle cx="653" cy="492" r="11" fill="#08e0e0"/>
<text class="lg" x="683" y="499">Aktor Dalam Jaringan</text>
</g>
</svg>
